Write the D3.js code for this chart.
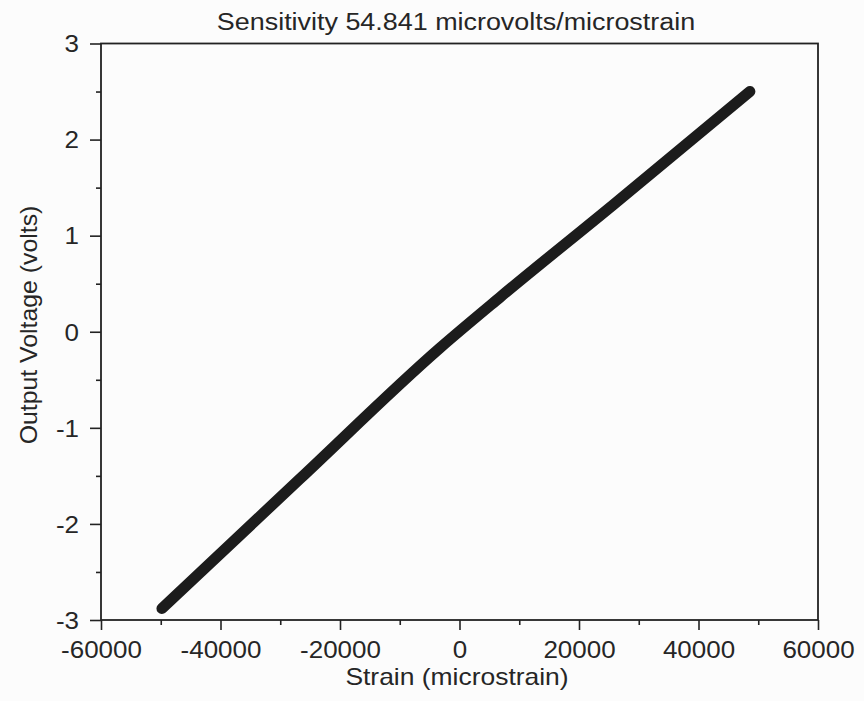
<!DOCTYPE html>
<html>
<head>
<meta charset="utf-8">
<script src="https://cdn.jsdelivr.net/npm/d3@7"></script>
<style>
  html, body { margin: 0; padding: 0; background: #fcfcfc; }
  svg { display: block; }
  text { font-family: "Liberation Sans", Arial, Helvetica, sans-serif; fill: #262626; }
</style>
</head>
<body>
<svg id="chart" width="864" height="701"></svg>
<script>
// Strain gauge calibration: output voltage vs strain
const strainValues = [-49800, -26700, -3300, 6800, 25700, 48600];
const voltageValues = [-2.88, -1.53, -0.17, 0.36, 1.32, 2.50];

const xMajorTicks = [-60000, -40000, -20000, 0, 20000, 40000, 60000];
const xMinorTicks = [-50000, -30000, -10000, 10000, 30000, 50000];
const yMajorTicks = [-3, -2, -1, 0, 1, 2, 3];
const yMinorTicks = [-2.5, -1.5, -0.5, 0.5, 1.5, 2.5];

const TITLE = "Sensitivity 54.841 microvolts/microstrain";
const X_LABEL = "Strain (microstrain)";
const Y_LABEL = "Output Voltage (volts)";

const FONT = 23;
const STRETCH = 1.13; // scan is a bit wider than the font

const margin = { top: 43.5, right: 46, bottom: 81, left: 101 };
const width = 864, height = 701;
const innerW = width - margin.left - margin.right;
const innerH = height - margin.top - margin.bottom;

const svg = d3.select("#chart");
const g = svg.append("g").attr("transform", `translate(${margin.left},${margin.top})`);

const x = d3.scaleLinear().domain([-60000, 60000]).range([0, innerW]);
const y = d3.scaleLinear().domain([-3, 3]).range([innerH, 0]);

const ink = "#222";
const plainNum = (d) => String(d); // keep ascii hyphen like the original

// minor ticks first (no labels)
g.append("g")
  .attr("transform", `translate(0,${innerH})`)
  .call(d3.axisBottom(x).tickValues(xMinorTicks).tickSize(5).tickSizeOuter(0).tickFormat(""))
  .call((a) => a.select(".domain").remove());

g.append("g")
  .call(d3.axisLeft(y).tickValues(yMinorTicks).tickSize(5).tickSizeOuter(0).tickFormat(""))
  .call((a) => a.select(".domain").remove());

const xAxis = g.append("g")
  .attr("transform", `translate(0,${innerH})`)
  .call(d3.axisBottom(x).tickValues(xMajorTicks).tickSize(10).tickSizeOuter(0).tickFormat(plainNum))
  .call((a) => a.select(".domain").remove());

xAxis.selectAll("text")
  .attr("y", 38)
  .attr("dy", null)
  .attr("transform", `scale(${STRETCH},1)`);

const yAxis = g.append("g")
  .call(d3.axisLeft(y).tickValues(yMajorTicks).tickSize(11).tickSizeOuter(0).tickFormat(plainNum))
  .call((a) => a.select(".domain").remove());

yAxis.selectAll("text")
  .attr("x", -22 / STRETCH)
  .attr("dy", "0.36em")
  .attr("transform", `scale(${STRETCH},1)`);

svg.selectAll(".tick line").attr("stroke", ink).attr("stroke-width", 1.6);
svg.selectAll(".tick text")
  .attr("fill", "#262626")
  .style("font-family", "'Liberation Sans', Arial, sans-serif")
  .style("font-size", `${FONT}px`);

// plot frame
g.append("rect")
  .attr("width", innerW)
  .attr("height", innerH)
  .attr("fill", "none")
  .attr("stroke", ink)
  .attr("stroke-width", 1.8);

// data trace
const pts = strainValues.map((s, i) => [s, voltageValues[i]]);
g.append("path")
  .datum(pts)
  .attr("fill", "none")
  .attr("stroke", "#1c1c1c")
  .attr("stroke-width", 11)
  .attr("stroke-linecap", "round")
  .attr("stroke-linejoin", "round")
  .attr("d", d3.line().curve(d3.curveMonotoneX).x((d) => x(d[0])).y((d) => y(d[1])));

// title and axis labels
svg.append("text")
  .attr("transform", `translate(456,30) scale(1.17,1)`)
  .attr("text-anchor", "middle")
  .style("font-size", `${FONT}px`)
  .text(TITLE);

svg.append("text")
  .attr("transform", `translate(457,685) scale(1.15,1)`)
  .attr("text-anchor", "middle")
  .style("font-size", `${FONT}px`)
  .text(X_LABEL);

svg.append("text")
  .attr("transform", `translate(37,325) rotate(-90) scale(1.08,1)`)
  .attr("text-anchor", "middle")
  .style("font-size", `${FONT}px`)
  .text(Y_LABEL);
</script>
</body>
</html>
